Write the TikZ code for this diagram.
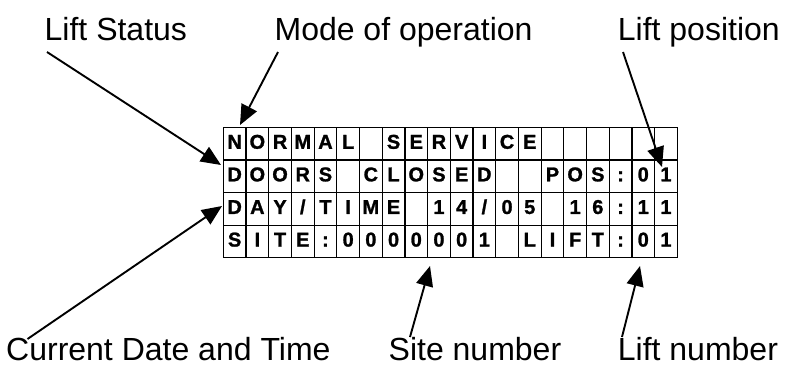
\documentclass[tikz,border=0pt]{standalone}
\usepackage{fontspec}
\setmainfont{Liberation Sans}
\IfFontExistsTF{Liberation Sans Bold}
  {\newfontfamily\cellfont{Liberation Sans Bold}[FakeBold=1.2]}
  {\newfontfamily\cellfont{Liberation Sans}[FakeBold=3]}
\usetikzlibrary{arrows.meta}
\begin{document}
\begin{tikzpicture}[x=1pt,y=-1pt,
 lbl/.style={anchor=base west,inner sep=0pt,text depth=0pt,font=\fontsize{32}{36}\selectfont},
 cell/.style={draw,line width=1.2pt,minimum width=22.7pt,minimum height=32.6pt,inner sep=0pt,outer sep=0pt,text height=14.3pt,text depth=4pt,font=\cellfont\fontsize{20}{22}\selectfont},
 ptr/.style={line width=1.9pt,-{Triangle[length=20pt,width=17pt]}}]
\useasboundingbox (0,0) rectangle (788,365);
% display grid
\foreach \ch [count=\i] in {N,O,R,M,A,L,{},S,E,R,V,I,C,E,{},{},{},{},{},{}}
  \node[cell] (a\i) at ({223.3+22.7*(\i-0.5)},143.6) {\ch};
\foreach \ch [count=\i] in {D,O,O,R,S,{},C,L,O,S,E,D,{},{},P,O,S,:,0,1}
  \node[cell] (b\i) at ({223.3+22.7*(\i-0.5)},176.2) {\ch};
\foreach \ch [count=\i] in {D,A,Y,/,T,I,M,E,{},1,4,/,0,5,{},1,6,:,1,1}
  \node[cell] (c\i) at ({223.3+22.7*(\i-0.5)},208.8) {\ch};
\foreach \ch [count=\i] in {S,I,T,E,:,0,0,0,0,0,0,1,{},L,I,F,T,:,0,1}
  \node[cell] (d\i) at ({223.3+22.7*(\i-0.5)},241.4) {\ch};
% labels
\node[lbl] (ls) at (44.5,40.7) {Lift Status};
\node[lbl] (mo) at (274.4,40.7) {Mode of operation};
\node[lbl] (lp) at (617.7,40.7) {Lift position};
\node[lbl] (cd) at (6,360) {Current Date and Time};
\node[lbl] (sn) at (388.5,360) {Site number};
\node[lbl] (ln) at (617.7,360) {Lift number};
% connector ends
\coordinate (lsS) at (47,52);    \coordinate (lsT) at (221,165);
\coordinate (moS) at (278,52);   \coordinate (moT) at (240,125);
\coordinate (lpS) at (623,52);   \coordinate (lpT) at (662,167);
\coordinate (cdS) at (27.5,339); \coordinate (cdT) at (222,206);
\coordinate (snS) at (410,337);  \coordinate (snT) at (430,266);
\coordinate (lnS) at (622,337);  \coordinate (lnT) at (640,266);
\draw[ptr] (lsS) -- (lsT);
\draw[ptr] (moS) -- (moT);
\draw[ptr] (lpS) -- (lpT);
\draw[ptr] (cdS) -- (cdT);
\draw[ptr] (snS) -- (snT);
\draw[ptr] (lnS) -- (lnT);
\end{tikzpicture}
\end{document}
